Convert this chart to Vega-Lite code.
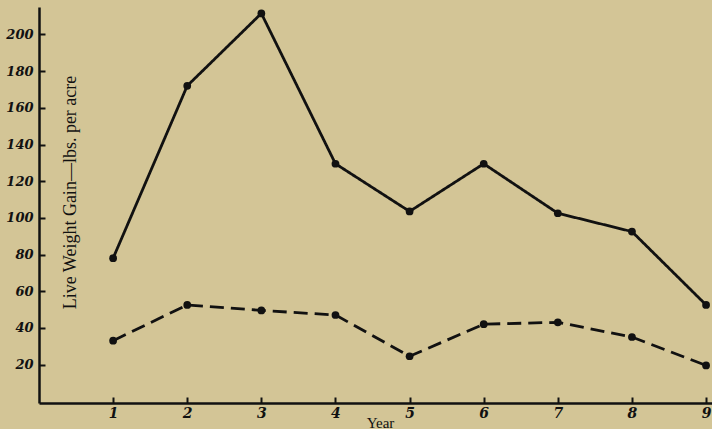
{
  "$schema": "https://vega.github.io/schema/vega-lite/v6.json",
  "width": 673,
  "height": 396,
  "autosize": {"type": "none"},
  "padding": {"left": 39, "top": 7, "right": 0, "bottom": 26},
  "background": "#d3c596",
  "config": {"view": {"stroke": null}},
  "data": {
    "values": [
      {"year": 1, "gain": 78, "series": "solid"},
      {"year": 2, "gain": 172, "series": "solid"},
      {"year": 3, "gain": 211.5, "series": "solid"},
      {"year": 4, "gain": 129.5, "series": "solid"},
      {"year": 5, "gain": 103.5, "series": "solid"},
      {"year": 6, "gain": 129.5, "series": "solid"},
      {"year": 7, "gain": 102.5, "series": "solid"},
      {"year": 8, "gain": 92.5, "series": "solid"},
      {"year": 9, "gain": 52.5, "series": "solid"},
      {"year": 1, "gain": 33, "series": "dashed"},
      {"year": 2, "gain": 52.5, "series": "dashed"},
      {"year": 3, "gain": 49.5, "series": "dashed"},
      {"year": 4, "gain": 47, "series": "dashed"},
      {"year": 5, "gain": 24.5, "series": "dashed"},
      {"year": 6, "gain": 42, "series": "dashed"},
      {"year": 7, "gain": 43, "series": "dashed"},
      {"year": 8, "gain": 35, "series": "dashed"},
      {"year": 9, "gain": 19.5, "series": "dashed"}
    ]
  },
  "encoding": {
    "x": {
      "field": "year",
      "type": "quantitative",
      "scale": {"domain": [0, 9.08], "nice": false, "zero": false},
      "axis": {
        "values": [1, 2, 3, 4, 5, 6, 7, 8, 9],
        "grid": false,
        "tickSize": -6,
        "tickWidth": 2,
        "tickColor": "#111",
        "domainColor": "#111",
        "domainWidth": 2.5,
        "labelFont": "DejaVu Serif",
        "labelFontStyle": "italic",
        "labelFontWeight": "bold",
        "labelFontSize": 14,
        "labelColor": "#111",
        "labelPadding": 9,
        "title": "Year",
        "titleFont": "Liberation Serif",
        "titleFontWeight": "normal",
        "titleFontSize": 15,
        "titleColor": "#111",
        "titleX": 341,
        "titleY": 24,
        "titleAlign": "center",
        "titleBaseline": "alphabetic"
      }
    },
    "y": {
      "field": "gain",
      "type": "quantitative",
      "scale": {"domain": [-1, 215], "nice": false, "zero": false},
      "axis": {
        "values": [20, 40, 60, 80, 100, 120, 140, 160, 180, 200],
        "grid": false,
        "tickSize": -6,
        "tickWidth": 2,
        "tickColor": "#111",
        "domainColor": "#111",
        "domainWidth": 2.5,
        "labelFont": "DejaVu Serif",
        "labelFontStyle": "italic",
        "labelFontWeight": "bold",
        "labelFontSize": 13,
        "labelColor": "#111",
        "labelPadding": 12,
        "title": "Live Weight Gain—lbs. per acre",
        "titleFont": "Liberation Serif",
        "titleFontWeight": "normal",
        "titleFontSize": 18,
        "titleColor": "#111",
        "titleAngle": -90,
        "titleX": 31,
        "titleY": 185,
        "titleAlign": "center",
        "titleBaseline": "middle"
      }
    }
  },
  "layer": [
    {
      "mark": {"type": "line", "color": "#111", "strokeWidth": 2.8},
      "encoding": {
        "strokeDash": {
          "field": "series",
          "type": "nominal",
          "scale": {"domain": ["solid", "dashed"], "range": [[1, 0], [14, 7]]},
          "legend": null
        }
      }
    },
    {
      "mark": {"type": "point", "filled": true, "color": "#111", "size": 60, "opacity": 1}
    }
  ]
}
